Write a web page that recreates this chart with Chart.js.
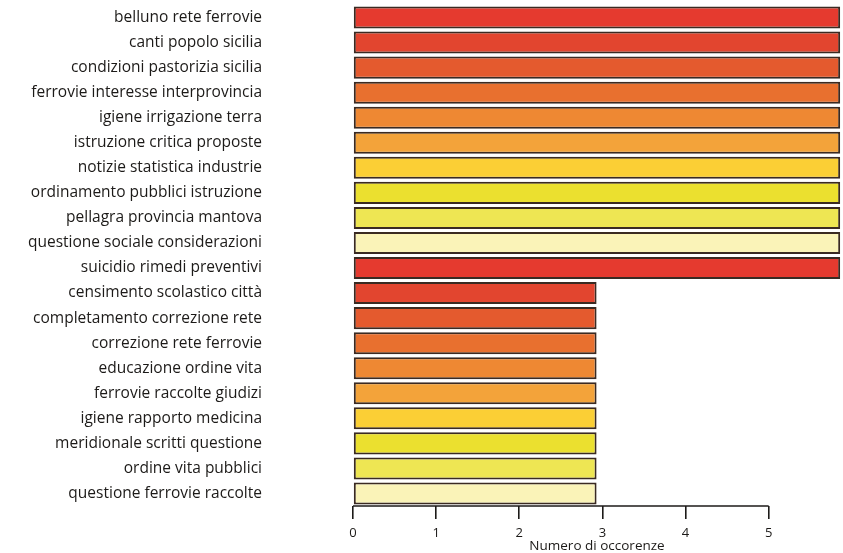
<!DOCTYPE html>
<html>
<head>
<meta charset="utf-8">
<script src="https://cdn.jsdelivr.net/npm/chart.js@4"></script>
<style>
  html, body { margin: 0; padding: 0; background: #fff; }
  #wrap { width: 843px; height: 553px; }
</style>
</head>
<body>
<div id="wrap"><canvas id="chart"></canvas></div>
<script>
const FONT = "'Open Sans', Lato, sans-serif";
const INK  = '#1c1a18';

// data
const labels = [
  'belluno rete ferrovie', 'canti popolo sicilia', 'condizioni pastorizia sicilia',
  'ferrovie interesse interprovincia', 'igiene irrigazione terra', 'istruzione critica proposte',
  'notizie statistica industrie', 'ordinamento pubblici istruzione', 'pellagra provincia mantova',
  'questione sociale considerazioni', 'suicidio rimedi preventivi', 'censimento scolastico città',
  'completamento correzione rete', 'correzione rete ferrovie', 'educazione ordine vita',
  'ferrovie raccolte giudizi', 'igiene rapporto medicina', 'meridionale scritti questione',
  'ordine vita pubblici', 'questione ferrovie raccolte'
];
const occorrenze = [5.86, 5.86, 5.86, 5.86, 5.86, 5.86, 5.86, 5.86, 5.86, 5.86,
                    5.86, 2.93, 2.93, 2.93, 2.93, 2.93, 2.93, 2.93, 2.93, 2.93];
const xTicks = [0, 1, 2, 3, 4, 5];
const palette = ['#e53a2f', '#e2452f', '#e45a2e', '#e8702f', '#ee8833',
                 '#f3a33a', '#fbcf35', '#ebe02f', '#eee653', '#faf3b8'];
const colors = labels.map((_, i) => palette[i % palette.length]);

// axis line only from 0 to 5, like the original
const axisLine = {
  id: 'axisLine',
  afterDatasetsDraw(chart) {
    const { ctx, chartArea, scales: { x } } = chart;
    ctx.save();
    ctx.strokeStyle = INK;
    ctx.lineWidth = 1.6;
    ctx.beginPath();
    ctx.moveTo(x.getPixelForValue(xTicks[0]), chartArea.bottom);
    ctx.lineTo(x.getPixelForValue(xTicks[xTicks.length - 1]), chartArea.bottom);
    ctx.stroke();
    ctx.restore();
  }
};

new Chart(document.getElementById('chart'), {
  type: 'bar',
  data: {
    labels,
    datasets: [{
      data: occorrenze,
      backgroundColor: colors,
      borderColor: '#3a2a22',
      borderWidth: 2,
      borderSkipped: false,
      categoryPercentage: 1,
      barPercentage: 0.88,
    }]
  },
  options: {
    indexAxis: 'y',
    responsive: true,
    maintainAspectRatio: false,
    animation: false,
    layout: { padding: { top: 5, right: 2, left: 0, bottom: 0 } },
    plugins: { legend: { display: false }, tooltip: { enabled: false } },
    scales: {
      x: {
        min: 0, max: 5.87,
        afterBuildTicks: s => { s.ticks = xTicks.map(v => ({ value: v })); },
        afterFit: s => { s.height = 47; },
        grid: { drawOnChartArea: false, drawTicks: true, tickLength: 13, tickColor: INK, lineWidth: 1.6 },
        border: { display: false },
        ticks: { color: INK, padding: 8, font: { family: FONT, size: 13, lineHeight: 1 } },
        title: {
          display: true, text: 'Numero di occorenze', color: INK,
          padding: 0, font: { family: FONT, size: 13.5, lineHeight: 1 }
        }
      },
      y: {
        afterFit: s => { s.width = 353; s.paddingTop = 0; s.paddingBottom = 0; },
        grid: { display: false },
        border: { display: false },
        ticks: { color: INK, padding: 83, autoSkip: false, font: { family: FONT, size: 15.5 } }
      }
    }
  },
  plugins: [axisLine]
});
</script>
</body>
</html>
